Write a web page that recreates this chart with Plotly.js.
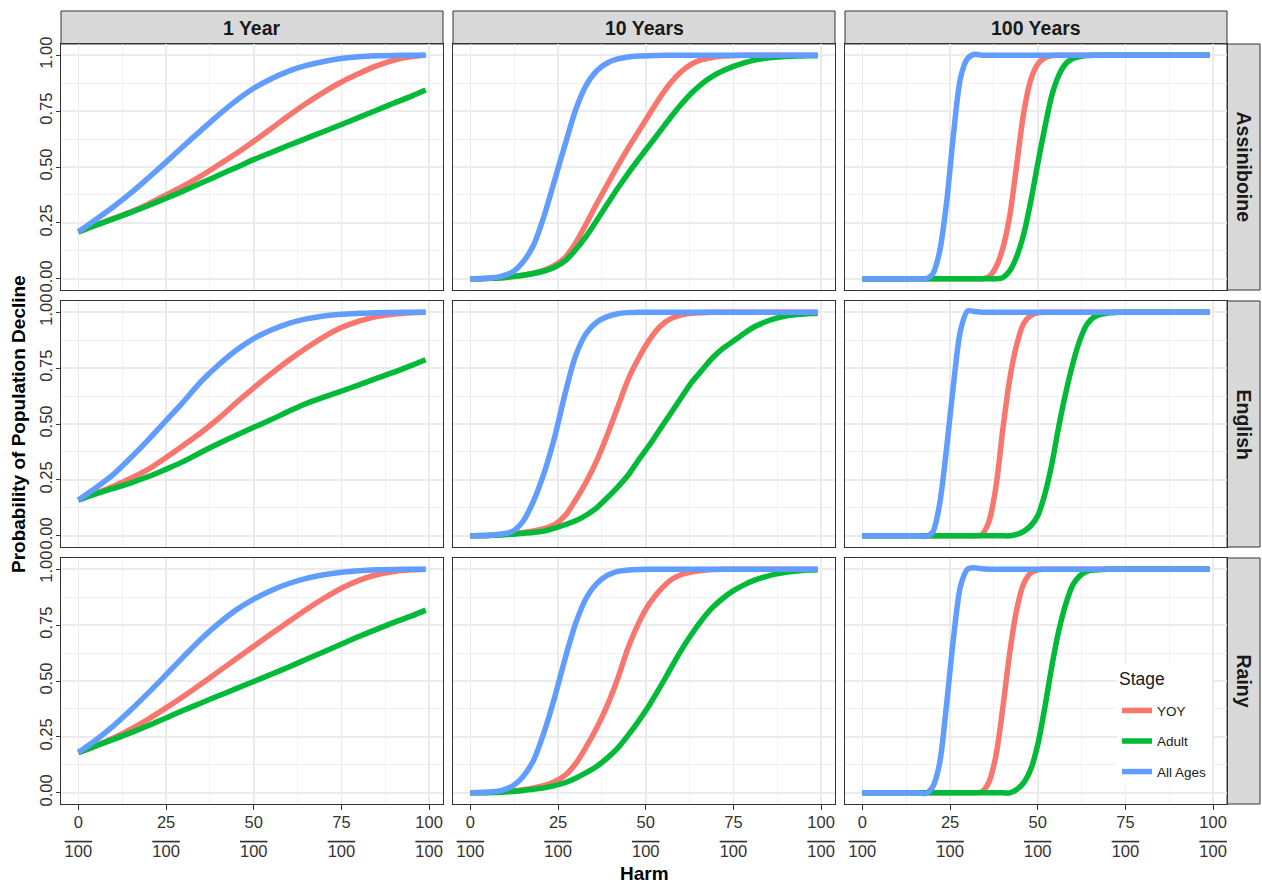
<!DOCTYPE html>
<html>
<head>
<meta charset="utf-8">
<script src="https://cdn.plot.ly/plotly-3.0.1.min.js"></script>
<style>html,body{margin:0;padding:0;background:#fff;}</style>
</head>
<body>
<div id="chart" style="width:1262px;height:886px;"></div>
<script>
// ---------------- DATA ----------------
const stages = ['YOY', 'Adult', 'All Ages'];
const timeframes = ['1 Year', '10 Years', '100 Years'];
const rivers = ['Assiniboine', 'English', 'Rainy'];

const xTickVals = [0, 25, 50, 75, 100];
const xTickNumerators = ['0', '25', '50', '75', '100'];
const xTickDenominator = '100';
const yTickVals = [0, 0.25, 0.5, 0.75, 1];
const yTickText = ['0.00', '0.25', '0.50', '0.75', '1.00'];

// harm values (x) sampled per time horizon
const harm1 = [0,5,10,15,20,25,30,35,40,45,50,55,60,65,70,75,80,85,90,95,99];
const harm10 = [0,3,6,9,12,15,18,21,24,27,30,33,36,39,42,45,48,51,54,57,60,63,66,69,72,75,78,81,84,87,90,93,96,99];
const harm100 = [0,2,4,6,8,10,12,14,16,18,20,22,24,26,28,30,32,34,36,38,40,42,44,46,48,50,52,54,56,58,60,62,64,66,68,70,72,74,76,78,80,82,84,86,88,90,92,94,96,98,99];

// ---- Assiniboine ----
const assin1_yoy   = [0.21,0.24,0.27,0.30,0.335,0.375,0.415,0.46,0.51,0.56,0.615,0.672,0.73,0.785,0.835,0.88,0.918,0.952,0.978,0.994,1.0];
const assin1_adult = [0.21,0.24,0.268,0.297,0.328,0.36,0.393,0.428,0.463,0.498,0.533,0.565,0.597,0.628,0.659,0.69,0.722,0.754,0.786,0.817,0.844];
const assin1_all   = [0.21,0.265,0.322,0.384,0.452,0.522,0.594,0.664,0.733,0.797,0.852,0.895,0.929,0.954,0.972,0.985,0.993,0.997,0.999,1.0,1.0];

const assin10_yoy   = [0,0,0.002,0.005,0.01,0.016,0.025,0.038,0.06,0.095,
                       0.16,0.245,0.335,0.42,0.505,0.585,0.66,0.735,0.81,0.875,
                       0.925,0.96,0.98,0.99,0.996,0.998,1,1,1,1,
                       1,1,1,1];
const assin10_adult = [0,0,0.002,0.005,0.01,0.016,0.024,0.035,0.052,0.08,
                       0.13,0.19,0.26,0.333,0.405,0.472,0.535,0.597,0.658,0.72,
                       0.778,0.83,0.872,0.905,0.93,0.95,0.966,0.978,0.986,0.991,
                       0.994,0.996,0.997,0.998];
const assin10_all   = [0,0.001,0.004,0.012,0.03,0.075,0.15,0.28,0.44,0.6,
                       0.755,0.865,0.93,0.965,0.983,0.992,0.996,0.998,0.999,1,
                       1,1,1,1,1,1,1,1,1,1,
                       1,1,1,1];

const assin100_yoy   = [0,0,0,0,0,0,0,0,0,0,
                        0,0,0,0,0,0,0,0,0.008,0.05,
                        0.135,0.28,0.51,0.743,0.89,0.96,0.988,0.998,1,1,
                        1,1,1,1,1,1,1,1,1,1,
                        1,1,1,1,1,1,1,1,1,1,
                        1];
const assin100_adult = [0,0,0,0,0,0,0,0,0,0,
                        0,0,0,0,0,0,0,0,0,0,
                        0.005,0.035,0.1,0.2,0.345,0.515,0.675,0.82,0.91,0.962,
                        0.985,0.994,0.998,1,1,1,1,1,1,1,
                        1,1,1,1,1,1,1,1,1,1,
                        1];
const assin100_all   = [0,0,0,0,0,0,0,0,0,0,
                        0.02,0.12,0.34,0.65,0.9,0.985,1.004,1,1,1,
                        1,1,1,1,1,1,1,1,1,1,
                        1,1,1,1,1,1,1,1,1,1,
                        1,1,1,1,1,1,1,1,1,1,
                        1];

// ---- English ----
const english1_yoy   = [0.16,0.19,0.222,0.257,0.298,0.35,0.405,0.462,0.525,0.595,0.662,0.725,0.785,0.84,0.89,0.931,0.96,0.98,0.992,0.998,1.0];
const english1_adult = [0.16,0.187,0.212,0.237,0.265,0.298,0.333,0.374,0.413,0.45,0.485,0.52,0.557,0.592,0.62,0.647,0.675,0.704,0.732,0.762,0.787];
const english1_all   = [0.16,0.215,0.275,0.35,0.43,0.515,0.60,0.69,0.765,0.83,0.882,0.92,0.95,0.97,0.983,0.991,0.995,0.998,0.999,1.0,1.0];

const english10_yoy   = [0,0.001,0.003,0.006,0.01,0.015,0.022,0.032,0.05,0.09,
                         0.16,0.24,0.335,0.45,0.575,0.7,0.795,0.875,0.935,0.97,
                         0.987,0.995,0.998,1,1,1,1,1,1,1,
                         1,1,1,1];
const english10_adult = [0,0,0.002,0.004,0.007,0.011,0.015,0.021,0.034,0.05,
                         0.067,0.092,0.125,0.17,0.218,0.272,0.34,0.405,0.475,0.545,
                         0.615,0.685,0.74,0.795,0.838,0.871,0.905,0.935,0.956,0.972,
                         0.983,0.989,0.993,0.995];
const english10_all   = [0,0.001,0.003,0.008,0.02,0.065,0.155,0.28,0.44,0.635,
                         0.805,0.905,0.955,0.98,0.993,0.998,1,1,1,1,
                         1,1,1,1,1,1,1,1,1,1,
                         1,1,1,1];

const english100_yoy   = [0,0,0,0,0,0,0,0,0,0,
                          0,0,0,0,0,0,0,0.005,0.06,0.21,
                          0.47,0.7,0.855,0.95,0.985,0.997,1,1,1,1,
                          1,1,1,1,1,1,1,1,1,1,
                          1,1,1,1,1,1,1,1,1,1,
                          1];
const english100_adult = [0,0,0,0,0,0,0,0,0,0,
                          0,0,0,0,0,0,0,0,0,0,
                          0,0,0.006,0.02,0.045,0.09,0.185,0.32,0.49,0.64,
                          0.77,0.875,0.945,0.978,0.99,0.996,0.999,1,1,1,
                          1,1,1,1,1,1,1,1,1,1,
                          1];
const english100_all   = [0,0,0,0,0,0,0,0,0,-0.003,
                          0.015,0.14,0.39,0.68,0.92,1.005,1.003,1,1,1,
                          1,1,1,1,1,1,1,1,1,1,
                          1,1,1,1,1,1,1,1,1,1,
                          1,1,1,1,1,1,1,1,1,1,
                          1];

// ---- Rainy ----
const rainy1_yoy   = [0.18,0.21,0.245,0.285,0.33,0.38,0.432,0.487,0.543,0.599,0.655,0.711,0.766,0.82,0.87,0.915,0.95,0.975,0.99,0.997,1.0];
const rainy1_adult = [0.18,0.21,0.239,0.269,0.301,0.335,0.369,0.402,0.434,0.466,0.498,0.53,0.563,0.597,0.631,0.665,0.699,0.731,0.762,0.791,0.817];
const rainy1_all   = [0.18,0.236,0.299,0.371,0.448,0.528,0.609,0.688,0.758,0.818,0.866,0.905,0.936,0.959,0.975,0.986,0.993,0.997,0.999,1.0,1.0];

const rainy10_yoy   = [0,0.001,0.002,0.004,0.008,0.014,0.022,0.032,0.05,0.078,
                       0.13,0.205,0.29,0.39,0.51,0.65,0.76,0.845,0.905,0.95,
                       0.975,0.987,0.994,0.998,1,1,1,1,1,1,
                       1,1,1,1];
const rainy10_adult = [0,0,0.001,0.003,0.006,0.01,0.016,0.022,0.032,0.045,
                       0.065,0.09,0.118,0.155,0.2,0.258,0.322,0.392,0.47,0.553,
                       0.635,0.708,0.773,0.828,0.87,0.904,0.93,0.951,0.966,0.978,
                       0.986,0.992,0.996,0.998];
const rainy10_all   = [0,0.001,0.004,0.011,0.03,0.072,0.145,0.27,0.425,0.6,
                       0.757,0.87,0.935,0.972,0.99,0.996,0.999,1,1,1,
                       1,1,1,1,1,1,1,1,1,1,
                       1,1,1,1];

const rainy100_yoy   = [0,0,0,0,0,0,0,0,0,0,
                        0,0,0,0,0,0,0,0.004,0.045,0.16,
                        0.375,0.625,0.82,0.935,0.983,0.997,1,1,1,1,
                        1,1,1,1,1,1,1,1,1,1,
                        1,1,1,1,1,1,1,1,1,1,
                        1];
const rainy100_adult = [0,0,0,0,0,0,0,0,0,0,
                        0,0,0,0,0,0,0,0,0,0,
                        0,0,0.015,0.045,0.105,0.215,0.38,0.565,0.725,0.845,
                        0.93,0.97,0.99,0.996,0.998,1,1,1,1,1,
                        1,1,1,1,1,1,1,1,1,1,
                        1];
const rainy100_all   = [0,0,0,0,0,0,0,0,0,-0.003,
                        0.025,0.13,0.395,0.695,0.925,1,1.006,1.002,1,1,
                        1,1,1,1,1,1,1,1,1,1,
                        1,1,1,1,1,1,1,1,1,1,
                        1,1,1,1,1,1,1,1,1,1,
                        1];

// ---------------- ASSEMBLY ----------------
const harmByTime = [harm1, harm10, harm100];
const series = [
  [ [assin1_yoy, assin1_adult, assin1_all],
    [assin10_yoy, assin10_adult, assin10_all],
    [assin100_yoy, assin100_adult, assin100_all] ],
  [ [english1_yoy, english1_adult, english1_all],
    [english10_yoy, english10_adult, english10_all],
    [english100_yoy, english100_adult, english100_all] ],
  [ [rainy1_yoy, rainy1_adult, rainy1_all],
    [rainy10_yoy, rainy10_adult, rainy10_all],
    [rainy100_yoy, rainy100_adult, rainy100_all] ]
];

const W = 1262, H = 886;
const colPx = [[61, 443], [453, 835], [845, 1227]];
const rowPx = [[44, 290], [301, 547], [558, 804]];
const stripTop = [11, 44];
const stripRight = [1227, 1260];
const colors = ['#F8766D', '#00BA38', '#619CFF'];
const FONT = 'Liberation Sans, Arial, Helvetica, sans-serif';
const px2x = p => p / W;
const px2y = p => 1 - p / H;

// fraction-style tick labels: numerator over an overlined denominator
const tickTextX = xTickNumerators.map(n =>
  '<span style="font-size:16.5px">' + n + '</span><br>' +
  '<span style="font-size:16.5px;text-decoration:overline">' + xTickDenominator + '</span>');

const data = [];
const layout = {
  width: W, height: H,
  margin: {l: 0, r: 0, t: 0, b: 0},
  paper_bgcolor: '#ffffff',
  plot_bgcolor: '#ffffff',
  font: {family: FONT, color: '#1A1A1A'},
  hovermode: false,
  showlegend: true,
  legend: {
    x: px2x(1117), y: px2y(664), xanchor: 'left', yanchor: 'top',
    bgcolor: '#ffffff', borderwidth: 0,
    font: {size: 13.5, color: '#1A1A1A', family: FONT},
    title: {text: '<sup><span style="font-size:17.5px">Stage</span></sup>', font: {size: 24, color: '#1A1A1A', family: FONT}},
    traceorder: 'grouped', tracegroupgap: 10
  },
  shapes: [],
  annotations: []
};

for (let r = 0; r < 3; r++) {
  for (let c = 0; c < 3; c++) {
    const idx = r * 3 + c + 1;
    const sfx = idx === 1 ? '' : String(idx);
    const bottom = (r === 2), left = (c === 0);
    layout['xaxis' + sfx] = {
      domain: [px2x(colPx[c][0]), px2x(colPx[c][1])],
      anchor: 'y' + sfx,
      range: [-4.95, 103.95],
      tickmode: 'array', tickvals: xTickVals, ticktext: tickTextX,
      showticklabels: bottom, ticklabelstandoff: -9,
      ticks: bottom ? 'outside' : '', ticklen: 4.5, tickwidth: 1, tickcolor: '#333333',
      tickfont: {size: 22.5, color: '#333333', family: FONT},
      showgrid: true, gridcolor: '#EBEBEB', gridwidth: 1.5,
      minor: {tickmode: 'array', tickvals: [12.5, 37.5, 62.5, 87.5], showgrid: true, gridcolor: '#EFEFEF', gridwidth: 0.9, ticks: ''},
      zeroline: false,
      showline: true, mirror: true, linecolor: '#333333', linewidth: 1,
      fixedrange: true
    };
    layout['yaxis' + sfx] = {
      domain: [px2y(rowPx[r][1]), px2y(rowPx[r][0])],
      anchor: 'x' + sfx,
      range: [-0.05, 1.05],
      tickmode: 'array', tickvals: yTickVals, ticktext: yTickText,
      showticklabels: left, tickangle: -90, ticklabelstandoff: -3,
      ticks: left ? 'outside' : '', ticklen: 4.5, tickwidth: 1, tickcolor: '#333333',
      tickfont: {size: 16.5, color: '#333333', family: FONT},
      showgrid: true, gridcolor: '#EBEBEB', gridwidth: 1.5,
      minor: {tickmode: 'array', tickvals: [0.125, 0.375, 0.625, 0.875], showgrid: true, gridcolor: '#EFEFEF', gridwidth: 0.9, ticks: ''},
      zeroline: false,
      showline: true, mirror: true, linecolor: '#333333', linewidth: 1,
      fixedrange: true
    };
    for (let s = 0; s < 3; s++) {
      data.push({
        type: 'scatter', mode: 'lines',
        x: harmByTime[c], y: series[r][c][s],
        xaxis: 'x' + sfx, yaxis: 'y' + sfx,
        name: stages[s], legendgroup: stages[s],
        showlegend: idx === 1,
        line: {color: colors[s], width: 5.5, shape: 'spline', smoothing: 0.8},
        hoverinfo: 'skip'
      });
    }
  }
}

// strips (top: time horizons; right: rivers)
for (let c = 0; c < 3; c++) {
  layout.shapes.push({type: 'rect', xref: 'paper', yref: 'paper',
    x0: px2x(colPx[c][0]), x1: px2x(colPx[c][1]), y0: px2y(stripTop[1]), y1: px2y(stripTop[0]),
    fillcolor: '#D9D9D9', line: {color: '#333333', width: 1}, layer: 'below'});
  layout.annotations.push({xref: 'paper', yref: 'paper',
    x: px2x((colPx[c][0] + colPx[c][1]) / 2), y: px2y((stripTop[0] + stripTop[1]) / 2),
    text: '<b>' + timeframes[c] + '</b>', showarrow: false,
    font: {size: 19.5, color: '#1A1A1A', family: FONT}, xanchor: 'center', yanchor: 'middle'});
}
for (let r = 0; r < 3; r++) {
  layout.shapes.push({type: 'rect', xref: 'paper', yref: 'paper',
    x0: px2x(stripRight[0]), x1: px2x(stripRight[1]), y0: px2y(rowPx[r][1]), y1: px2y(rowPx[r][0]),
    fillcolor: '#D9D9D9', line: {color: '#333333', width: 1}, layer: 'below'});
  layout.annotations.push({xref: 'paper', yref: 'paper',
    x: px2x((stripRight[0] + stripRight[1]) / 2), y: px2y((rowPx[r][0] + rowPx[r][1]) / 2),
    text: '<b>' + rivers[r] + '</b>', showarrow: false, textangle: 90,
    font: {size: 19.5, color: '#1A1A1A', family: FONT}, xanchor: 'center', yanchor: 'middle'});
}

// axis titles
layout.annotations.push({xref: 'paper', yref: 'paper', x: px2x(644), y: px2y(873),
  text: '<b>Harm</b>', showarrow: false, font: {size: 19, color: '#000000', family: FONT},
  xanchor: 'center', yanchor: 'middle'});
layout.annotations.push({xref: 'paper', yref: 'paper', x: px2x(18), y: px2y(424),
  text: '<b>Probability of Population Decline</b>', showarrow: false, textangle: -90,
  font: {size: 19, color: '#000000', family: FONT}, xanchor: 'center', yanchor: 'middle'});

Plotly.newPlot('chart', data, layout, {staticPlot: true, displayModeBar: false});
</script>
</body>
</html>
